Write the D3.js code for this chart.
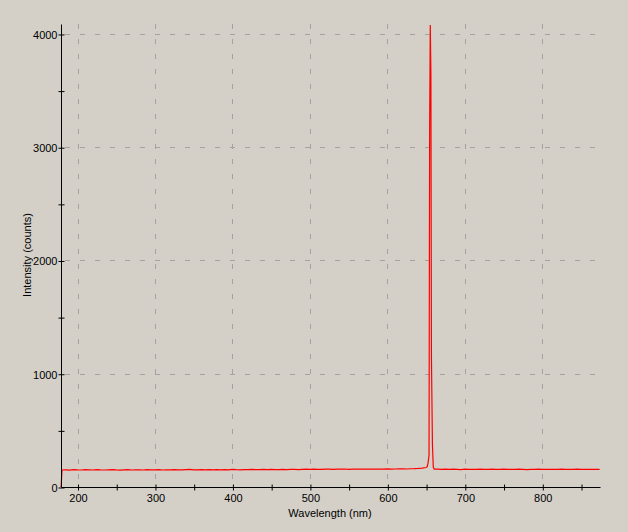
<!DOCTYPE html>
<html><head><meta charset="utf-8">
<script src="https://cdn.jsdelivr.net/npm/d3@7"></script>
<style>
html,body{margin:0;padding:0;background:#d4d0c8;}
svg{display:block;}
text{font-family:"Liberation Sans",Arial,sans-serif;font-size:11px;fill:#000;}
</style></head><body>
<svg id="chart" width="628" height="532"></svg>
<script>
// ---- data ----
const baseWavelengths = [
  180,185,190,195,200,205,210,215,220,225,
  230,235,240,245,250,255,260,265,270,275,
  280,285,290,295,300,305,310,315,320,325,
  330,335,340,345,350,355,360,365,370,375,
  380,385,390,395,400,405,410,415,420,425,
  430,435,440,445,450,455,460,465,470,475,
  480,485,490,495,500,505,510,515,520,525,
  530,535,540,545,550,555,560,565,570,575,
  580,585,590,595,600,605,610,615,620,625,
  630,635,640,645,650];
const baseCounts = [
  150,152,149,153,151,150,154,152,150,153,
  151,150,152,154,151,149,152,153,150,151,
  152,150,153,151,152,154,150,152,151,153,
  152,151,153,155,152,151,154,152,153,151,
  153,152,154,152,155,153,152,154,153,155,
  154,153,155,153,156,154,153,155,154,156,
  155,154,156,158,155,157,156,155,158,157,
  156,158,157,159,156,158,157,159,158,157,
  158,157,159,158,160,158,159,161,160,159,
  161,162,164,167,172];
const peakWavelengths = [651.5,652.6,653.8,654.6,655.4,656.2,656.9,658.2,659.3,660.5];
const peakCounts      = [180,  215,  280,  3180, 4080, 3650, 1140, 370,  175,  158];
const tailWavelengths = [
  665,670,675,680,685,690,695,700,705,710,
  715,720,725,730,735,740,745,750,755,760,
  765,770,775,780,785,790,795,800,805,810,
  815,820,825,830,835,840,845,850,855,860,
  865,870,874];
const tailCounts = [
  157,156,158,155,157,156,154,157,156,155,
  156,157,155,156,158,155,156,157,155,156,
  155,157,156,154,156,155,157,156,155,156,
  156,155,157,156,155,156,157,155,156,155,
  156,155,156];
const startPoint = [178.8, 0];

const xMajorTicks = [200,300,400,500,600,700,800];
const xMinorTicks = [250,350,450,550,650,750,850];
const yMajorTicks = [0,1000,2000,3000,4000];
const yMinorTicks = [500,1500,2500,3500];
const xTitle = "Wavelength (nm)";
const yTitle = "Intensity (counts)";

// ---- build series ----
const wl = [startPoint[0]].concat(baseWavelengths, peakWavelengths, tailWavelengths);
const ct = [startPoint[1]].concat(baseCounts, peakCounts, tailCounts);
const data = wl.map((w,i)=>({w, c: ct[i]}));

// ---- layout ----
const L = 61, R = 600, T = 24, B = 487;
const x = d3.scaleLinear().domain([178.7, 874.5]).range([L, R]);
const y = d3.scaleLinear().domain([0, 4088]).range([B, T]);

const svg = d3.select("#chart");
const gridColor = "#a3a3a3";

// grid
svg.append("g").selectAll("line.v").data(xMajorTicks).join("line")
  .attr("x1", d=>Math.round(x(d))+0.5).attr("x2", d=>Math.round(x(d))+0.5)
  .attr("y1", T).attr("y2", B)
  .attr("stroke", gridColor).attr("stroke-width",1).attr("stroke-dasharray","5,10");
svg.append("g").selectAll("line.h").data(yMajorTicks.filter(d=>d>0)).join("line")
  .attr("x1", L+4).attr("x2", R)
  .attr("y1", d=>Math.round(y(d))+0.5).attr("y2", d=>Math.round(y(d))+0.5)
  .attr("stroke", gridColor).attr("stroke-width",1).attr("stroke-dasharray","5,10");

// data line
const line = d3.line().x(d=>x(d.w)).y(d=>y(d.c));
svg.append("path").datum(data)
  .attr("d", line).attr("fill","none").attr("stroke","#ff0000").attr("stroke-width",1.2);

// x axis
const xAxis = svg.append("g").attr("transform", `translate(0.5,${B+0.5})`)
  .call(d3.axisBottom(x).tickValues(xMajorTicks.concat(xMinorTicks)).tickSizeOuter(0)
    .tickFormat(d=> xMajorTicks.includes(d) ? d : ""));
xAxis.select(".domain").attr("d", `M${L},0H${R}`).attr("stroke","#000");
xAxis.selectAll(".tick line").attr("y1",-3).attr("y2",3).attr("stroke","#000");
xAxis.selectAll(".tick text").attr("y",7).attr("dy","0.71em")
  .style("font-family",'"Liberation Sans",Arial,sans-serif').style("font-size","11px");

// y axis
const yAxis = svg.append("g").attr("transform", `translate(${L+0.5},0.5)`)
  .call(d3.axisLeft(y).tickValues(yMajorTicks.concat(yMinorTicks)).tickSizeOuter(0)
    .tickFormat(d=> yMajorTicks.includes(d) ? d : ""));
yAxis.select(".domain").attr("d", `M0,${T}V${B}`).attr("stroke","#000");
yAxis.selectAll(".tick line").attr("x1",-3).attr("x2",3).attr("stroke","#000");
yAxis.selectAll(".tick text").attr("x",-4).attr("dy","0.36em")
  .style("font-family",'"Liberation Sans",Arial,sans-serif').style("font-size","11px");

// titles
svg.append("text").attr("x", 330).attr("y", 517).attr("text-anchor","middle").text(xTitle);
svg.append("text").attr("transform","translate(31,255) rotate(-90)")
  .attr("text-anchor","middle").text(yTitle);
</script>
</body></html>
